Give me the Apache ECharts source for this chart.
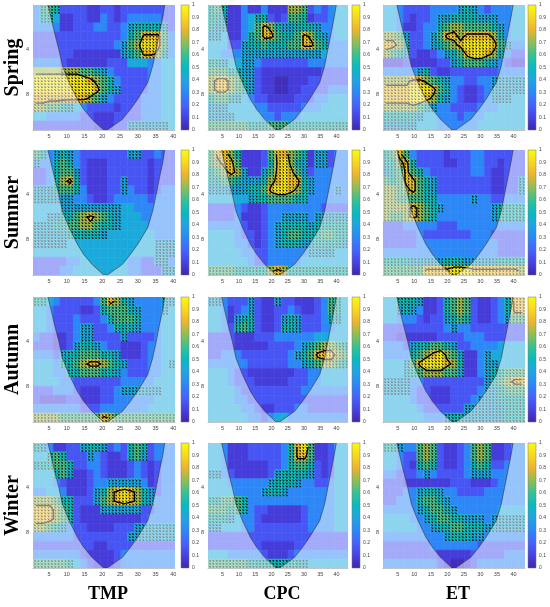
<!DOCTYPE html>
<html lang="en">
<head>
<meta charset="UTF-8">
<title>Wavelet coherence by season</title>
<script src="https://cdn.jsdelivr.net/npm/echarts@6/dist/echarts.min.js"></script>
<style>
  html, body { margin: 0; padding: 0; background: #fff; }
  #chart { width: 550px; height: 607px; }
</style>
</head>
<body>
<div id="chart"></div>
<script>
// rows and columns of the figure
const seasons = ['Spring', 'Summer', 'Autumn', 'Winter'];
const drivers = ['TMP', 'CPC', 'ET'];

// axis ticks
const timeTicks = [5, 10, 15, 20, 25, 30, 35, 40];
const periodTicks = [4, 8];

// time span of each column
const timeMin = [0.5, 0.5, 0.5];
const timeMax = [40.5, 43.5, 43.5];

// cone of influence: log2(period) and left / right edge (time units)
const coiLog = [1.0, 1.26, 1.63, 2.0, 2.37, 2.74, 3.11, 3.33, 3.56, 3.8];
const coiLeftTMP  = [4.7, 5.5, 6.6, 7.8, 8.8, 10.7, 13.0, 14.7, 17.1, 20.4];
const coiRightTMP = [37.6, 37.1, 36.1, 35.2, 34.2, 32.8, 30.0, 28.0, 25.7, 21.4];
const coiLeftCPC  = [4.7, 5.5, 6.7, 8.0, 9.1, 11.1, 13.5, 15.4, 17.9, 21.4];
const coiRightCPC = [39.9, 39.3, 38.3, 37.3, 36.3, 34.8, 31.7, 29.6, 27.1, 22.5];
const coiLeftET   = coiLeftCPC;
const coiRightET  = coiRightCPC;

// coherence level of each digit 0-9
const levelValue = [0.03, 0.08, 0.16, 0.3, 0.42, 0.52, 0.62, 0.72, 0.84, 0.95];

// coherence: 14 period rows (top = short period) x 21 time columns.
// digit 0-9 = coherence level, letter a-j = same level with phase arrows drawn
const springTMP = [
  '3fgf22221122122222222', '3ff411221132123333322', '33331122233223effffe2', '22222222222223fgiiig3',
  '2222222222223eghjjig3', '2222221111111efgiihf3', '333321111112224443344', '7777hhhggfe3222223344',
  'jjjjjjjjihgf322223344', 'jjjjjjjjjigfe22223344', 'iiiiiiiihge3222233344', 'hhggfe432222122233344',
  '443333322111222233344', '22222222211122eeeeee4'
];
const springCPC = [
  'fgf113113111hhg232344', 'ffe1134ff212ggf122344', 'fee1134gihfeefffe3344', 'ee4113fgiigffgihfe344',
  '44422effgfffggiigf333', '44333eeeeeeeeeeee4333', 'ffe44ee32222222333333', 'gggffee21111111112222',
  'hiihgfe21100111222222', 'hiihgfe21100112222333', 'fggfe4322111122233444', 'eee444433222223334444',
  'eeee44443323334444444', 'ggggggfffgggfffffffff'
];
const springET = [
  '44322223333efe3233344', '44321223eeffffeee3344', '44311233fghhggggfe344', 'hhge223egiihiiiihf344',
  'iihf223efghijjjjige33', 'hgfe21123efgijjihf322', '1112111122efgggfe3211', '33333ef21122222223333',
  'hhhhiihgfe332233eeeee', 'iiiijjjigf321123eeeee', 'iiiijjihfe321123eee44', 'hhhhhgfe3322223334444',
  'fffffe443332333444444', 'eeeee4443333334444444'
];
const summerTMP = [
  'gf3efe32222222ee22322', 'e33fgf321112222221222', '223fgge21112222221222', '223fhif211122e2221222',
  'eeefggf311122e3221233', 'eeeeee332112333332333', '4444eeeeeeeee44333333', '44eeffghihgfe44433333',
  'eeeffgghhgffe44443333', 'eeeeefffffe4444444333', 'eeeee4444444444444eee', '444444444444444444eee',
  '222223344444443322ee3', '2222334444444433222ee'
];
const summerCPC = [
  'giihf1112giihgf1ee233', 'ghiig1112fijhfe1ee233', 'fghihe11egijige233333', 'ffggfeeefhijiife33333',
  'eeeeeeffgijjihfe333e3', '444444effggggff333333', '222232112333333332222', '22223111233eeee3eeeee',
  '3333321123effffefffff', '4444322123efggfffggff', '4444332123efffeeffffe', '444443322333333eeee44',
  '444444322333334444444', 'ggggfffffhihfffffffff'
];
const summerET = [
  'fgig32222122233222222', 'ffhif2222112233221222', 'efgigf322222233211222', 'gfgiigfe222222221122e',
  'hhghigfe222222221122e', 'hhggggff33333e3322333', 'hhhhihgfe3333333effff', 'hgghihgf33333333effff',
  '222333332223333333333', '222223222222233322222', '222223333333333332222', '333333333333333332222',
  'ffffeeeeefffeeeeeffff', 'ggggggiiiijjjiiiiiiih'
];
const autumnTMP = [
  'ff43222223gihfe3333ee', '4432222112fgggfe333e4', '44322232223fgggf33344', '4432223ee223fffe33344',
  '3221123ee2222e2222344', '222112effe32211123344', '3332effgggffe11123344', '4443ffghiihgfe222334e',
  '44433ffgggffe32223344', '444433222222233333444', '2223332111223eeeeee44', '211112211122333333444',
  '333333322233333334444', 'hhhhggggggihggggggggg'
];
const autumnCPC = [
  'ee3222e211e2211123gf4', '443123e21122321123gf4', '4431eff2112efe2223fe4', '4432fgf2112ffe2223344',
  '222211122233333344444', '22221111122223efghhgf', '2233322222223efgiiihg', '33333322222233efghhgf',
  '444322111111122334444', '444322211111222334444', '444432222222223333333', '444433222222222222222',
  '444443321122233222222', '444444332344333333333'
];
const autumnET = [
  '44fffe112fghg21123fii', '44efe3112fghg21123fii', '443332122efgf21123egg', '2222222223e3322222222',
  '221111112222333222222', '3332effggfe2233334444', '3333fghijhge113e44444', '444egijjjihf113ee4444',
  '444efghhhgge113effggg', 'eeee33222222222efghii', 'eeee32211122223eefggg', '44443221112223eeeffff',
  '444443222222eeeeeefff', '444444333effeeeeeefff'
];
const winterTMP = [
  'fe31122effe232fgf2333', '44fgf222e32112fge2333', 'effggf223321112321233', '444fge112321112321233',
  '44432111233eeeee31233', '334431112efhijihfe233', 'hhhgff222eghijihfe333', 'iiihgf2111eeeeee22333',
  'iiihgf211111111123333', 'hhgfe3221111222eeeeee', '33333322222222eeeeeee', '222222222112222222222',
  '333333321111233333333', 'gggggf432111233333333'
];
const winterCPC = [
  '443111222223fijg11244', '443111222223fiig11244', '443111111223fggf21244', 'ee32111112effffe21244',
  '444333333efffe3322344', '44443333effe333333344', 'ffgggf333333333333344', 'gggfgf322111112333344',
  'fffe43321111112333344', 'ee4443322222222333344', '222222222222222222222', '222222221111122222222',
  '444333332111233333333', 'ggggggffffffffe444444'
];
const winterET = [
  'ffe33ghg21123ghg11233', '44322ghg21123ghg11233', '44321fgf21123fgf22333', '332223e322223eee33333',
  '222111111122211123333', '22233effe332222333333', '22333fggfe33333333333', '33333efggfe3333334444',
  '444433efggffeee3eeeee', '4444433effggfffeeeeee', '333333333efffee333333', '222222233333332222222',
  '222222221111122222333', '333333332100123333333'
];

// phase arrow direction for each panel (degrees, 0 = pointing right)
const arrowAngle = [-35, -50, -40, -30, -45, -55, -40, -60, -35, -45, -30, -50];

const panelGrids = [
  springTMP, springCPC, springET,
  summerTMP, summerCPC, summerET,
  autumnTMP, autumnCPC, autumnET,
  winterTMP, winterCPC, winterET
];
const coiLeft = [coiLeftTMP, coiLeftCPC, coiLeftET];
const coiRight = [coiRightTMP, coiRightCPC, coiRightET];

// parula-like colour map
const parula = ['#3e26a8', '#4741e5', '#4563fd', '#2d87f7', '#20a5e3', '#06bbc1',
                '#37c195', '#8fbe54', '#ecb430', '#f8d81e', '#f9fb0e'];

// layout
const rowTop = [5, 150, 297, 443];
const plotH = 125;
const colLeft = [33, 208, 383];
const colW = [142, 140, 142];
const cbLeft = [181, 352, 528];
const cbW = 8;

const NR = 14, NC = 21;
const LOG_TOP = 1, LOG_STEP = 0.2, LOG_BOT = LOG_TOP + NR * LOG_STEP;
const tickFont = 'Liberation Sans';

// marching squares, returns segments in (col, row) index space
function contourSegments(v, th) {
  const table = {1: [[3, 2]], 2: [[2, 1]], 3: [[3, 1]], 4: [[0, 1]], 5: [[3, 0], [2, 1]], 6: [[0, 2]],
    7: [[3, 0]], 8: [[3, 0]], 9: [[0, 2]], 10: [[0, 1], [3, 2]], 11: [[0, 1]], 12: [[3, 1]],
    13: [[2, 1]], 14: [[3, 2]]};
  const segs = [];
  for (let r = 0; r < v.length - 1; r++) {
    for (let c = 0; c < v[r].length - 1; c++) {
      const tl = v[r][c], tr = v[r][c + 1], br = v[r + 1][c + 1], bl = v[r + 1][c];
      const idx = (tl > th ? 8 : 0) | (tr > th ? 4 : 0) | (br > th ? 2 : 0) | (bl > th ? 1 : 0);
      if (!table[idx]) continue;
      const edge = e => {
        if (e === 0) return [c + (th - tl) / (tr - tl), r];
        if (e === 1) return [c + 1, r + (th - tr) / (br - tr)];
        if (e === 2) return [c + (th - bl) / (br - bl), r + 1];
        return [c, r + (th - tl) / (bl - tl)];
      };
      table[idx].forEach(pair => {
        const a = edge(pair[0]), b = edge(pair[1]);
        segs.push([a[0], a[1], b[0], b[1]]);
      });
    }
  }
  return segs;
}

function fitRow(s) {
  s = s.replace(/\s/g, '');
  while (s.length < NC) s += s[s.length - 1];
  return s.slice(0, NC);
}

const grids = [], xAxes = [], yAxes = [], series = [], heatIdx = [], graphics = [];

panelGrids.forEach((rows, p) => {
  const i = Math.floor(p / 3), j = p % 3;
  const t0 = timeMin[j], t1 = timeMax[j];
  const w = (t1 - t0) / NC, hw = w / 2, hh = LOG_STEP / 2;
  const ang = arrowAngle[p] * Math.PI / 180;
  const heat = [], arrows = [], vals = [];

  rows.forEach((raw, r) => {
    const row = fitRow(raw);
    vals.push([]);
    for (let c = 0; c < NC; c++) {
      const code = row.charCodeAt(c);
      const withArrow = code >= 97;
      const d = withArrow ? code - 97 : code - 48;
      vals[r].push(d);
      const x = t0 + (c + 0.5) * w, y = LOG_TOP + (r + 0.5) * LOG_STEP;
      heat.push([x, y, levelValue[d]]);
      if (withArrow) arrows.push([x, y]);
    }
  });
  const segs = contourSegments(vals, 7.5).map(s => [
    t0 + (s[0] + 0.5) * w, LOG_TOP + (s[1] + 0.5) * LOG_STEP,
    t0 + (s[2] + 0.5) * w, LOG_TOP + (s[3] + 0.5) * LOG_STEP
  ]);

  const g = 2 * p, gc = 2 * p + 1;
  grids.push({left: colLeft[j], top: rowTop[i], width: colW[j], height: plotH});
  grids.push({left: cbLeft[j], top: rowTop[i], width: cbW, height: plotH});

  xAxes.push({
    type: 'value', gridIndex: g, min: t0, max: t1,
    axisLine: {show: true, lineStyle: {color: '#888', width: 0.5}},
    axisTick: {show: false},
    splitLine: {show: false},
    axisLabel: {customValues: timeTicks, fontSize: 5.5, color: '#444', margin: 3, fontFamily: tickFont}
  });
  yAxes.push({
    type: 'value', gridIndex: g, min: LOG_TOP, max: LOG_BOT, inverse: true,
    axisLine: {show: true, lineStyle: {color: '#888', width: 0.5}},
    axisTick: {show: false},
    splitLine: {show: false},
    axisLabel: {
      customValues: periodTicks.map(v => Math.log2(v)),
      formatter: v => String(Math.round(Math.pow(2, v))),
      fontSize: 5.5, color: '#444', margin: 4, fontFamily: tickFont
    }
  });
  xAxes.push({type: 'value', gridIndex: gc, min: 0, max: 1, show: false});
  yAxes.push({
    type: 'value', gridIndex: gc, min: 0, max: 1, interval: 0.1, position: 'right',
    axisLine: {show: false}, axisTick: {show: false}, splitLine: {show: false},
    axisLabel: {fontSize: 5, color: '#444', margin: 3, fontFamily: tickFont,
      formatter: v => String(+v.toFixed(1))}
  });

  heatIdx.push(series.length);
  series.push({
    type: 'custom', xAxisIndex: g, yAxisIndex: g, clip: true,
    encode: {x: 0, y: 1}, data: heat,
    renderItem: (params, api) => {
      const x = api.value(0), y = api.value(1);
      const a = api.coord([x - hw, y - hh]), b = api.coord([x + hw, y + hh]);
      const color = api.visual('color');
      return {
        type: 'rect',
        shape: {x: Math.min(a[0], b[0]), y: Math.min(a[1], b[1]),
                width: Math.abs(b[0] - a[0]), height: Math.abs(b[1] - a[1])},
        style: {fill: color, stroke: color, lineWidth: 0.6}
      };
    }
  });

  series.push({
    type: 'custom', xAxisIndex: g, yAxisIndex: g, clip: true,
    encode: {x: 0, y: 1}, data: arrows,
    renderItem: (params, api) => {
      const x = api.value(0), y = api.value(1);
      const a = api.coord([x - hw, y - hh]), b = api.coord([x + hw, y + hh]);
      const px = Math.min(a[0], b[0]), py = Math.min(a[1], b[1]);
      const pw = Math.abs(b[0] - a[0]), ph = Math.abs(b[1] - a[1]);
      const s = -ang;
      const children = [];
      for (let u = 0; u < 2; u++) {
        for (let k = 0; k < 3; k++) {
          const cx = px + pw * (u + 0.5) / 2, cy = py + ph * (k + 0.5) / 3;
          const dx = Math.cos(s) * 1.2, dy = Math.sin(s) * 1.2;
          const tip = [cx + dx, cy + dy], tail = [cx - dx, cy - dy];
          const h1 = [tip[0] - 1.1 * Math.cos(s - 0.6), tip[1] - 1.1 * Math.sin(s - 0.6)];
          const h2 = [tip[0] - 1.1 * Math.cos(s + 0.6), tip[1] - 1.1 * Math.sin(s + 0.6)];
          children.push({type: 'polyline', shape: {points: [tail, tip, h1, tip, h2]},
            style: {stroke: '#000', lineWidth: 0.6, fill: null}});
        }
      }
      return {type: 'group', children: children};
    }
  });

  series.push({
    type: 'custom', xAxisIndex: g, yAxisIndex: g, clip: true,
    encode: {x: [0, 2], y: [1, 3]}, data: segs,
    renderItem: (params, api) => {
      const a = api.coord([api.value(0), api.value(1)]);
      const b = api.coord([api.value(2), api.value(3)]);
      return {type: 'line', shape: {x1: a[0], y1: a[1], x2: b[0], y2: b[1]},
        style: {stroke: '#000', lineWidth: 1.3, lineCap: 'round'}};
    }
  });

  // cone of influence: whiten the area outside it
  const left = coiLeft[j], right = coiRight[j];
  series.push({
    type: 'custom', xAxisIndex: g, yAxisIndex: g, clip: true,
    encode: {x: 0, y: 1}, data: [[t0, LOG_TOP]],
    renderItem: (params, api) => {
      const Lp = coiLog.map((v, k) => api.coord([left[k], v]));
      const Rp = coiLog.map((v, k) => api.coord([right[k], v]));
      const tl = api.coord([t0, LOG_TOP]), bl = api.coord([t0, LOG_BOT]);
      const tr = api.coord([t1, LOG_TOP]), br = api.coord([t1, LOG_BOT]);
      const shade = {fill: 'rgba(255,255,255,0.5)'};
      return {type: 'group', children: [
        {type: 'polygon', shape: {points: [tl].concat(Lp, [bl])}, style: shade},
        {type: 'polygon', shape: {points: [tr].concat(Rp, [br])}, style: shade},
        {type: 'polyline', shape: {points: Lp.concat(Rp.slice().reverse())},
          style: {stroke: '#333', lineWidth: 0.6, fill: null}}
      ]};
    }
  });

  // colour bar
  series.push({
    type: 'custom', xAxisIndex: gc, yAxisIndex: gc,
    encode: {x: 0, y: 1}, data: [[0, 0]],
    renderItem: (params, api) => {
      const a = api.coord([0, 0]), b = api.coord([1, 1]);
      return {
        type: 'rect',
        shape: {x: a[0], y: b[1], width: b[0] - a[0], height: a[1] - b[1]},
        style: {
          fill: new echarts.graphic.LinearGradient(0, 1, 0, 0,
            parula.map((col, k) => ({offset: k / (parula.length - 1), color: col}))),
          stroke: '#777', lineWidth: 0.5
        }
      };
    }
  });
});

seasons.forEach((name, i) => {
  graphics.push({
    type: 'text', x: 13, y: rowTop[i] + plotH / 2, rotation: Math.PI / 2,
    style: {text: name, font: 'bold 20px "Liberation Serif"', fill: '#000',
      textAlign: 'center', textVerticalAlign: 'middle'}
  });
});
drivers.forEach((name, j) => {
  graphics.push({
    type: 'text', x: colLeft[j] + colW[j] / 2 + 4, y: 594,
    style: {text: name, font: 'bold 18px "Liberation Serif"', fill: '#000',
      textAlign: 'center', textVerticalAlign: 'middle'}
  });
});

const chart = echarts.init(document.getElementById('chart'));
chart.setOption({
  animation: false,
  backgroundColor: '#fff',
  grid: grids,
  xAxis: xAxes,
  yAxis: yAxes,
  visualMap: {
    type: 'continuous', show: false, min: 0, max: 1, dimension: 2,
    seriesIndex: heatIdx, inRange: {color: parula}
  },
  graphic: graphics,
  series: series
});
</script>
</body>
</html>
